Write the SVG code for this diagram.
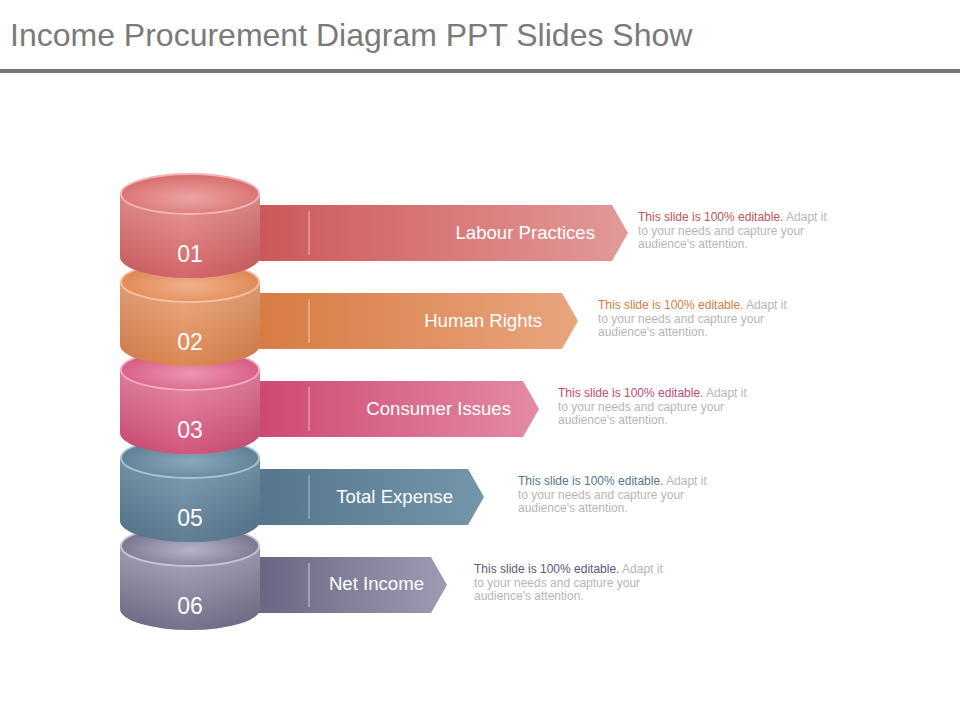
<svg xmlns="http://www.w3.org/2000/svg" width="960" height="720" viewBox="0 0 960 720">
<defs>
<style>
.title{font-family:"Liberation Sans",Arial,sans-serif;font-size:32px;fill:#7a7a7a}
.num{font-family:"Liberation Sans",Arial,sans-serif;font-size:23px;fill:#ffffff;text-anchor:middle}
.lbl{font-family:"Liberation Sans",Arial,sans-serif;font-size:18.6px;fill:#ffffff;text-anchor:end}
.desc{font-family:"Liberation Sans",Arial,sans-serif;font-size:12px;fill:#b6b6b6}
.sep{stroke-width:2;stroke-opacity:0.55}
</style>
<linearGradient id="b1" x1="0" y1="0" x2="1" y2="0"><stop offset="0" stop-color="#cc5456"/><stop offset="1" stop-color="#e29a98"/></linearGradient>
<linearGradient id="b2" x1="0" y1="0" x2="1" y2="0"><stop offset="0" stop-color="#d6793f"/><stop offset="1" stop-color="#e9a57f"/></linearGradient>
<linearGradient id="b3" x1="0" y1="0" x2="1" y2="0"><stop offset="0" stop-color="#cd456f"/><stop offset="1" stop-color="#e38ba4"/></linearGradient>
<linearGradient id="b4" x1="0" y1="0" x2="1" y2="0"><stop offset="0" stop-color="#52738a"/><stop offset="1" stop-color="#7595ab"/></linearGradient>
<linearGradient id="b5" x1="0" y1="0" x2="1" y2="0"><stop offset="0" stop-color="#65617d"/><stop offset="1" stop-color="#9d9bb3"/></linearGradient>

<linearGradient id="c1" x1="0" y1="0" x2="0" y2="1"><stop offset="0" stop-color="#e89292"/><stop offset="1" stop-color="#d05c60"/></linearGradient>
<linearGradient id="c2" x1="0" y1="0" x2="0" y2="1"><stop offset="0" stop-color="#eca67c"/><stop offset="1" stop-color="#da804a"/></linearGradient>
<linearGradient id="c3" x1="0" y1="0" x2="0" y2="1"><stop offset="0" stop-color="#e886a2"/><stop offset="1" stop-color="#d04c74"/></linearGradient>
<linearGradient id="c4" x1="0" y1="0" x2="0" y2="1"><stop offset="0" stop-color="#789aae"/><stop offset="1" stop-color="#56768d"/></linearGradient>
<linearGradient id="c5" x1="0" y1="0" x2="0" y2="1"><stop offset="0" stop-color="#a8a6bc"/><stop offset="1" stop-color="#6e6a86"/></linearGradient>

<radialGradient id="t1" cx="0.5" cy="0.6" r="0.55"><stop offset="0" stop-color="#eda4a4"/><stop offset="1" stop-color="#d87070"/></radialGradient>
<radialGradient id="t2" cx="0.5" cy="0.6" r="0.55"><stop offset="0" stop-color="#f1b08a"/><stop offset="1" stop-color="#de8854"/></radialGradient>
<radialGradient id="t3" cx="0.5" cy="0.6" r="0.55"><stop offset="0" stop-color="#eb96b0"/><stop offset="1" stop-color="#d65c83"/></radialGradient>
<radialGradient id="t4" cx="0.5" cy="0.6" r="0.55"><stop offset="0" stop-color="#8aa8bb"/><stop offset="1" stop-color="#5e7f95"/></radialGradient>
<radialGradient id="t5" cx="0.5" cy="0.6" r="0.55"><stop offset="0" stop-color="#b6b4c9"/><stop offset="1" stop-color="#78748f"/></radialGradient>

<linearGradient id="shade" x1="0" y1="0" x2="1" y2="0"><stop offset="0" stop-color="#000" stop-opacity="0.06"/><stop offset="0.45" stop-color="#fff" stop-opacity="0.06"/><stop offset="1" stop-color="#000" stop-opacity="0.08"/></linearGradient>
</defs>

<rect x="0" y="0" width="960" height="720" fill="#ffffff"/>

<g id="header">
<text class="title" x="10" y="46">Income Procurement Diagram PPT Slides Show</text>
<rect x="0" y="69" width="960" height="4" fill="#777777"/>
</g>

<g id="node-06">
<path d="M240,557 H431 L447,585 L431,613 H240 Z" fill="url(#b5)"/>
<line class="sep" x1="309" y1="563" x2="309" y2="607" stroke="#c4c2d4"/>
<path d="M120,546 V609 A70,21 0 0 0 260,609 V546 Z" fill="url(#c5)"/>
<path d="M120,546 V609 A70,21 0 0 0 260,609 V546 Z" fill="url(#shade)"/>
<ellipse cx="190" cy="546" rx="69" ry="20" fill="url(#t5)" stroke="#c6c4d8" stroke-width="2"/>
<text class="num" x="190" y="614">06</text>
<text class="lbl" x="424" y="590">Net Income</text>
<text class="desc" x="474" y="573"><tspan fill="#5c5a72">This slide is 100% editable.</tspan> Adapt it</text>
<text class="desc" x="474" y="587">to your needs and capture your</text>
<text class="desc" x="474" y="600">audience's attention.</text>
</g>

<g id="node-05">
<path d="M240,469 H468 L484,497 L468,525 H240 Z" fill="url(#b4)"/>
<line class="sep" x1="309" y1="475" x2="309" y2="519" stroke="#a6bccb"/>
<path d="M120,458 V521 A70,21 0 0 0 260,521 V458 Z" fill="url(#c4)"/>
<path d="M120,458 V521 A70,21 0 0 0 260,521 V458 Z" fill="url(#shade)"/>
<ellipse cx="190" cy="458" rx="69" ry="20" fill="url(#t4)" stroke="#aac2d1" stroke-width="2"/>
<text class="num" x="190" y="526">05</text>
<text class="lbl" x="453" y="503">Total Expense</text>
<text class="desc" x="518" y="485"><tspan fill="#56768c">This slide is 100% editable.</tspan> Adapt it</text>
<text class="desc" x="518" y="499">to your needs and capture your</text>
<text class="desc" x="518" y="512">audience's attention.</text>
</g>

<g id="node-03">
<path d="M240,381 H523 L539,409 L523,437 H240 Z" fill="url(#b3)"/>
<line class="sep" x1="309" y1="387" x2="309" y2="431" stroke="#f0aabd"/>
<path d="M120,370 V433 A70,21 0 0 0 260,433 V370 Z" fill="url(#c3)"/>
<path d="M120,370 V433 A70,21 0 0 0 260,433 V370 Z" fill="url(#shade)"/>
<ellipse cx="190" cy="370" rx="69" ry="20" fill="url(#t3)" stroke="#f2aabf" stroke-width="2"/>
<text class="num" x="190" y="438">03</text>
<text class="lbl" x="511" y="415">Consumer Issues</text>
<text class="desc" x="558" y="397"><tspan fill="#c44a72">This slide is 100% editable.</tspan> Adapt it</text>
<text class="desc" x="558" y="411">to your needs and capture your</text>
<text class="desc" x="558" y="424">audience's attention.</text>
</g>

<g id="node-02">
<path d="M240,293 H562 L578,321 L562,349 H240 Z" fill="url(#b2)"/>
<line class="sep" x1="309" y1="299" x2="309" y2="343" stroke="#f4c0a0"/>
<path d="M120,282 V345 A70,21 0 0 0 260,345 V282 Z" fill="url(#c2)"/>
<path d="M120,282 V345 A70,21 0 0 0 260,345 V282 Z" fill="url(#shade)"/>
<ellipse cx="190" cy="282" rx="69" ry="20" fill="url(#t2)" stroke="#f6c2a0" stroke-width="2"/>
<text class="num" x="190" y="350">02</text>
<text class="lbl" x="542" y="327">Human Rights</text>
<text class="desc" x="598" y="309"><tspan fill="#d27c44">This slide is 100% editable.</tspan> Adapt it</text>
<text class="desc" x="598" y="323">to your needs and capture your</text>
<text class="desc" x="598" y="336">audience's attention.</text>
</g>

<g id="node-01">
<path d="M240,205 H612 L628,233 L612,261 H240 Z" fill="url(#b1)"/>
<line class="sep" x1="309" y1="211" x2="309" y2="255" stroke="#f0b0b0"/>
<path d="M120,194 V257 A70,21 0 0 0 260,257 V194 Z" fill="url(#c1)"/>
<path d="M120,194 V257 A70,21 0 0 0 260,257 V194 Z" fill="url(#shade)"/>
<ellipse cx="190" cy="194" rx="69" ry="20" fill="url(#t1)" stroke="#f3b4b4" stroke-width="2"/>
<text class="num" x="190" y="262">01</text>
<text class="lbl" x="595" y="239">Labour Practices</text>
<text class="desc" x="638" y="221"><tspan fill="#c05456">This slide is 100% editable.</tspan> Adapt it</text>
<text class="desc" x="638" y="235">to your needs and capture your</text>
<text class="desc" x="638" y="248">audience's attention.</text>
</g>
</svg>
